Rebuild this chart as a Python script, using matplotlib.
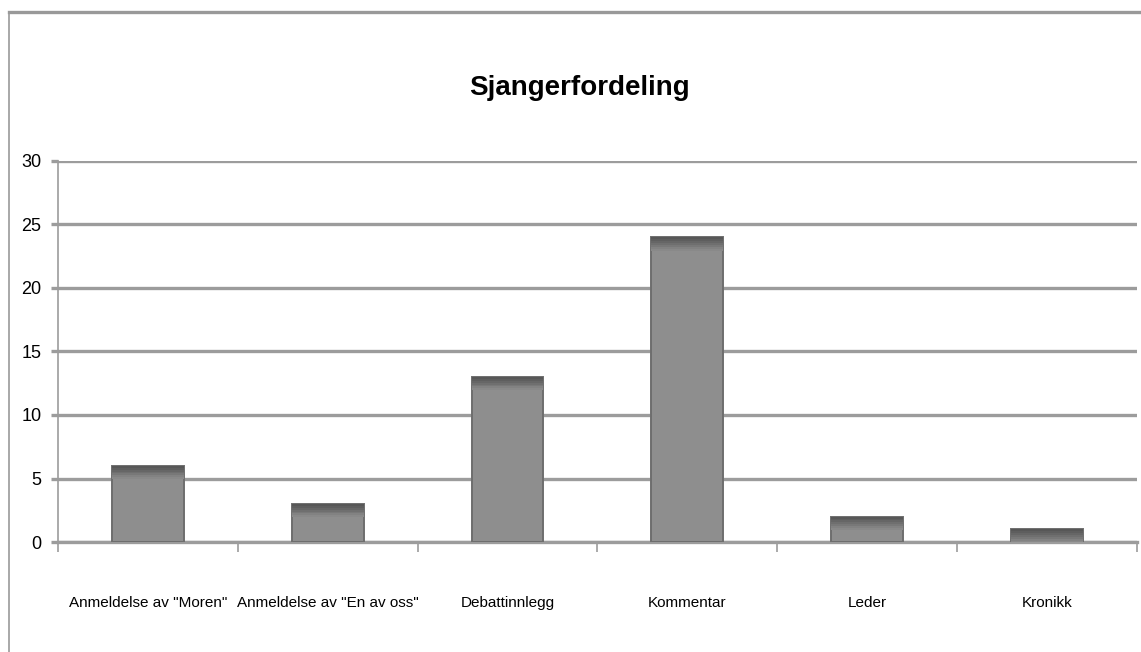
import numpy as np
import matplotlib
matplotlib.use('Agg')
import matplotlib.pyplot as plt
from matplotlib.lines import Line2D

# data
categories = ['Anmeldelse av "Moren"', 'Anmeldelse av "En av oss"', 'Debattinnlegg',
              'Kommentar', 'Leder', 'Kronikk']
values = [6, 3, 13, 24, 2, 1]
yticks = [0, 5, 10, 15, 20, 25, 30]
title = 'Sjangerfordeling'

plt.rcParams['font.family'] = ['Liberation Sans', 'DejaVu Sans']

fig = plt.figure(figsize=(11.41, 6.52), dpi=100, facecolor='white')
ax = fig.add_axes([0.0508, 0.1687, 0.9456, 0.5844])

x = np.arange(len(categories))
grid_c = '#9c9c9c'
ax.set_axisbelow(True)
ax.yaxis.grid(True, color=grid_c, lw=2.4)

# bars: flat grey body, darker shaded band at the top
ax.bar(x, values, width=0.4, color='#8e8e8e', edgecolor='#6e6e6e', lw=1.4, zorder=3)
shades = ['#575757', '#5e5e5e', '#666666', '#6f6f6f', '#787878', '#828282', '#898989']
step = 0.15
for i, c in enumerate(shades):
    h = [min(step, max(v - i * step, 0)) for v in values]
    b = [max(v - (i + 1) * step, 0) for v in values]
    ax.bar(x, h, bottom=b, width=0.4, color=c, lw=0, zorder=4)

ax.set_xlim(-0.5, len(categories) - 0.5)
ax.set_ylim(0, 30)
ax.set_yticks(yticks)
ax.set_yticklabels([str(t) for t in yticks], fontsize=13)
ax.set_xticks(x)
ax.set_xticklabels(categories, fontsize=11)
ax.set_xticks(np.arange(-0.5, len(categories), 1), minor=True)
ax.tick_params(axis='x', which='major', length=0, pad=39)
ax.tick_params(axis='x', which='minor', length=7, color=grid_c, width=1.2)
ax.tick_params(axis='y', length=5, color=grid_c, width=2.4, pad=7)

for s in ['top', 'right']:
    ax.spines[s].set_visible(False)
ax.spines['left'].set_color(grid_c)
ax.spines['left'].set_linewidth(1.2)
ax.spines['bottom'].set_color(grid_c)
ax.spines['bottom'].set_linewidth(2.4)

fig.text(0.508, 0.865, title, ha='center', va='center', fontsize=20, fontweight='bold')

# outer frame lines
fig.add_artist(Line2D([0.0079, 1.0], [0.9816, 0.9816], color='#999999', lw=2.4,
                      transform=fig.transFigure))
fig.add_artist(Line2D([0.0079, 0.0079], [0.0, 0.9816], color='#999999', lw=1.2,
                      transform=fig.transFigure))

fig.savefig('out.png', dpi=100, facecolor='white')
